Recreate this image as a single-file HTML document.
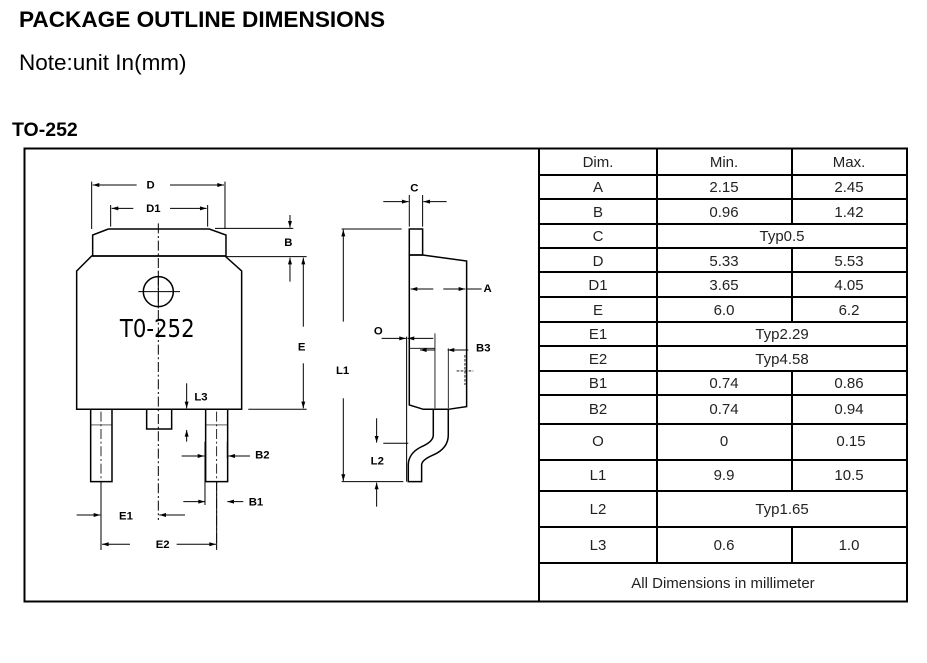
<!DOCTYPE html>
<html><head><meta charset="utf-8"><style>
body{margin:0;background:#fff;width:927px;height:663px;overflow:hidden;position:relative;font-family:"Liberation Sans",Arial,sans-serif}
.t{position:absolute;color:#000;white-space:nowrap}
</style></head><body>
<div class="t" style="left:19px;top:7px;font-size:22.6px;font-weight:bold">PACKAGE OUTLINE DIMENSIONS</div>
<div class="t" style="left:19px;top:50px;font-size:22.5px">Note:unit In(mm)</div>
<div class="t" style="left:12px;top:119px;font-size:19.5px;font-weight:bold">TO-252</div>
<svg width="927" height="663" style="position:absolute;left:0;top:0" font-family="Liberation Sans,Arial,sans-serif">
<defs>
<marker id="a" viewBox="0 0 10 10" refX="10" refY="5" markerWidth="30" markerHeight="20" orient="auto" markerUnits="userSpaceOnUse"><path d="M0,2 L10,5 L0,8z" fill="#000"/></marker>
</defs>
<rect x="24.5" y="148.5" width="882.5" height="453" fill="none" stroke="#000" stroke-width="2"/>
<g stroke="#000" stroke-width="2" fill="none">
<line x1="539" y1="148" x2="539" y2="602"/>
<path d="M657 148V562M792 148V224M792 248V322M792 371V491M792 527V562"/>
<path d="M539 175H907M539 199H907M539 224H907M539 248H907M539 272H907M539 297H907M539 322H907M539 346H907M539 371H907M539 395H907M539 424H907M539 460H907M539 491H907M539 527H907M539 563H907"/>
</g>
<g font-size="15" text-anchor="middle" fill="#222">
<text x="598" y="167">Dim.</text><text x="724" y="167">Min.</text><text x="849" y="167">Max.</text>
<text x="598" y="192">A</text><text x="724" y="192">2.15</text><text x="849" y="192">2.45</text>
<text x="598" y="217">B</text><text x="724" y="217">0.96</text><text x="849" y="217">1.42</text>
<text x="598" y="241">C</text><text x="782" y="241">Typ0.5</text>
<text x="598" y="266">D</text><text x="724" y="266">5.33</text><text x="849" y="266">5.53</text>
<text x="598" y="290">D1</text><text x="724" y="290">3.65</text><text x="849" y="290">4.05</text>
<text x="598" y="315">E</text><text x="724" y="315">6.0</text><text x="849" y="315">6.2</text>
<text x="598" y="339">E1</text><text x="782" y="339">Typ2.29</text>
<text x="598" y="364">E2</text><text x="782" y="364">Typ4.58</text>
<text x="598" y="388">B1</text><text x="724" y="388">0.74</text><text x="849" y="388">0.86</text>
<text x="598" y="414">B2</text><text x="724" y="414">0.74</text><text x="849" y="414">0.94</text>
<text x="598" y="446">O</text><text x="724" y="446">0</text><text x="851" y="446">0.15</text>
<text x="598" y="480">L1</text><text x="724" y="480">9.9</text><text x="849" y="480">10.5</text>
<text x="598" y="514">L2</text><text x="782" y="514">Typ1.65</text>
<text x="598" y="550">L3</text><text x="724" y="550">0.6</text><text x="849" y="550">1.0</text>
<text x="723" y="588">All Dimensions in millimeter</text>
</g>
<g transform="translate(20,145) scale(0.3333)" stroke="#000" stroke-width="4.5" fill="none">
<path d="M218 333V270L265 252H568L618 270V333Z"/>
<path d="M170 378L215 333H615L665 378V793H170Z"/>
<path d="M212 793V1010H276V793M557 793V1010H623V793M380 793V852H455V793"/>
<path d="M212 840H276M557 840H623" stroke-width="2"/>
<circle cx="415" cy="440" r="45"/>
<path d="M355 440H480M415 380V490" stroke-width="3"/>
<path d="M415 235V1125" stroke-width="3" stroke-dasharray="30 8 6 8"/>
<path d="M243 800V1210M590 800V1210" stroke-width="2.5" stroke-dasharray="30 8 6 8"/>
<path d="M215 110V252M615 110V252M272 180V245M563 180V245" stroke-width="3"/>
<path d="M585 250H820M620 335H860M685 793H860" stroke-width="3"/>
<path d="M555 890V1080M622 890V940" stroke-width="3"/>
<path d="M243 1010V1215M590 1010V1215" stroke-width="3"/>
<path d="M1168 252H1208V330H1168Z"/>
<path d="M1168 330L1208 330L1340 348V785L1285 793H1210L1168 780Z"/>
<path d="M1240 793V870Q1240 890 1205 905Q1165 925 1165 960V1010H1205V960Q1205 945 1240 930Q1285 910 1285 870V793"/>
<path d="M1160 575V1010" stroke-width="3"/>
<path d="M1170 610H1245M1245 565V790M1285 610V790" stroke-width="2.5"/>
<path d="M1335 630V720M1310 678H1360" stroke-width="2.5" stroke-dasharray="8 4"/>
<path d="M1168 150V245M1208 150V245" stroke-width="3"/>
<path d="M965 252H1145M965 1010H1150M1090 895H1165" stroke-width="3"/>
<path d="M1338 432H1385M1285 615H1345" stroke-width="3"/>
<g stroke-width="3" marker-end="url(#a)">
<path d="M350 120H218"/><path d="M450 120H612"/><path d="M340 190H275"/><path d="M450 190H560"/>
<path d="M810 210V248"/><path d="M810 410V338"/><path d="M850 545V338"/><path d="M850 655V790"/>
<path d="M500 715V790"/><path d="M500 890V855"/>
<path d="M485 933H553"/><path d="M690 933H625"/><path d="M490 1070H555"/><path d="M670 1070H622"/>
<path d="M170 1110H241"/><path d="M495 1110H418"/><path d="M330 1198H246"/><path d="M470 1198H588"/>
<path d="M1090 170H1166"/><path d="M1280 170H1210"/>
<path d="M970 530V254"/><path d="M970 760V1008"/>
<path d="M1240 432H1172"/><path d="M1270 432H1336"/>
<path d="M1085 580H1158"/><path d="M1240 580H1163"/><path d="M1245 615H1200"/><path d="M1310 615H1283"/>
<path d="M1070 820V893"/><path d="M1070 1085V1013"/>
</g>
</g>
<g transform="translate(20,145) scale(0.3333)" font-weight="bold" font-size="34" text-anchor="middle" fill="#000">
<text x="392" y="131">D</text><text x="400" y="201">D1</text><text x="805" y="303">B</text>
<text x="845" y="616">E</text><text x="543" y="766">L3</text><text x="727" y="941">B2</text>
<text x="708" y="1081">B1</text><text x="318" y="1123">E1</text><text x="428" y="1209">E2</text>
<text x="1183" y="139">C</text><text x="1403" y="441">A</text><text x="1075" y="569">O</text>
<text x="1390" y="619">B3</text><text x="968" y="687">L1</text><text x="1072" y="959">L2</text>
</g>
<text x="158" y="337" font-size="25" text-anchor="middle" fill="#000" font-family="DejaVu Sans,sans-serif" transform="scale(0.85,1) translate(27,0)">T0-252</text>
</svg>
</body></html>
